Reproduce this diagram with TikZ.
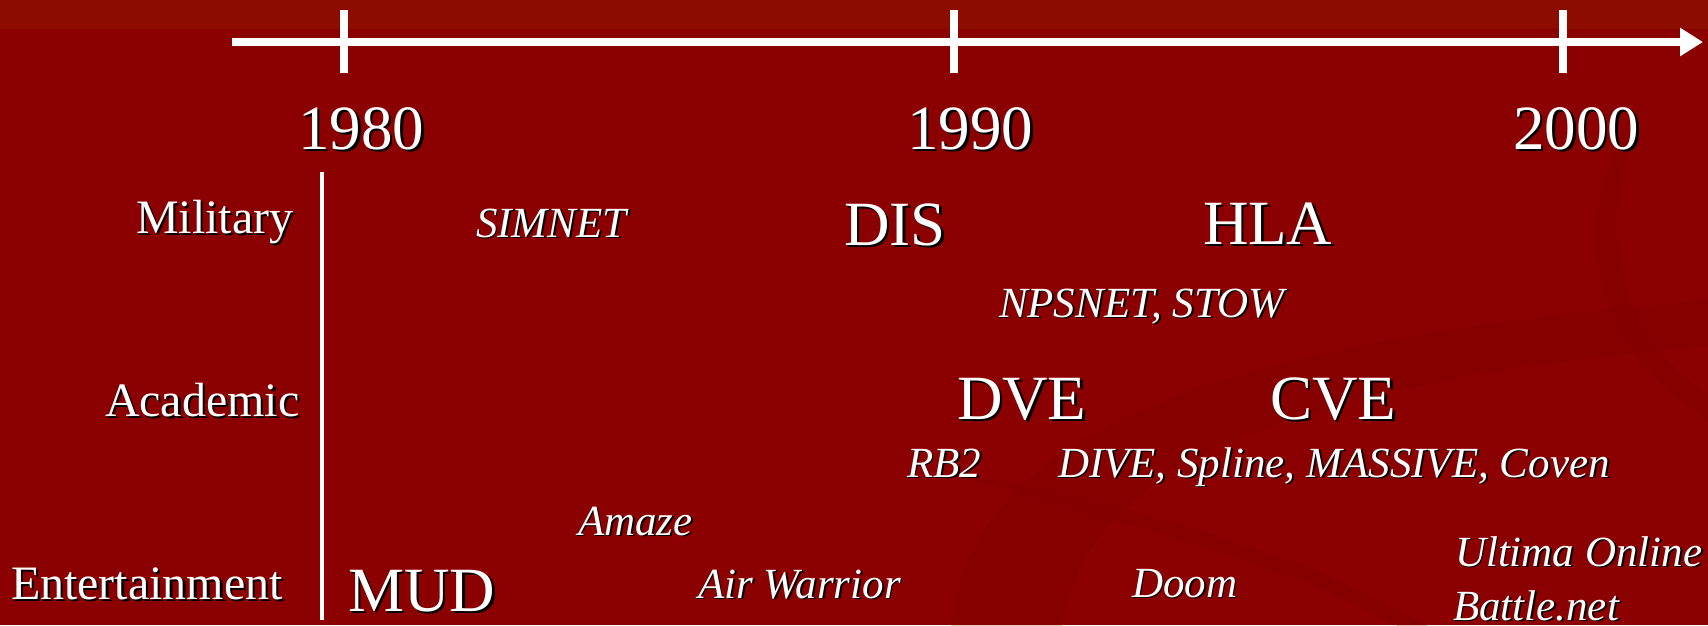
\documentclass[tikz,border=0pt]{standalone}
\usepackage{fontspec}
\setmainfont{Liberation Serif}
\usetikzlibrary{arrows.meta}
\definecolor{bg}{HTML}{8B0000}
\definecolor{bgtop}{HTML}{8C0C00}
\definecolor{swoosh}{HTML}{7A0000}
\newcommand\shtext[1]{\makebox[0pt][l]{\kern0.045em\raisebox{-0.045em}{\textcolor{black}{#1}}}#1}
\tikzset{
  lbl/.style={text=white, inner sep=0pt, outer sep=0pt, anchor=base west},
  big/.style={lbl, font=\fontsize{63}{63}\selectfont},
  cat/.style={lbl, font=\fontsize{48}{48}\selectfont},
  ital/.style={lbl, font=\fontsize{43}{43}\selectfont\itshape},
  axisline/.style={white, line width=8pt},
  band/.style={fill=swoosh, opacity=0.22},
}
\begin{document}
\begin{tikzpicture}[x=1pt, y=-1pt]
\useasboundingbox (0,0) rectangle (1708,625);
\fill[bg] (0,0) rectangle (1708,625);
\fill[bgtop] (0,0) rectangle (1708,29);
% faint background swooshes
\fill[band] (950,640) .. controls (960,420) and (1250,340) .. (1708,300)
  -- (1708,345) .. controls (1350,380) and (1080,440) .. (1060,640) -- cycle;
\fill[band] (940,470) .. controls (1100,520) and (1300,560) .. (1420,640)
  -- (1450,640) .. controls (1330,560) and (1120,500) .. (940,470) -- cycle;
\fill[band] (1650,90) .. controls (1570,200) and (1570,330) .. (1708,420)
  -- (1708,395) .. controls (1600,320) and (1600,200) .. (1650,90) -- cycle;
% time axis
\coordinate (axstart) at (232,42);
\coordinate (axend) at (1703,42);
\draw[axisline, -{Triangle[length=23pt,width=27pt]}] (axstart) -- (axend);
\coordinate (t80a) at (344,10); \coordinate (t80b) at (344,73);
\coordinate (t90a) at (954,10); \coordinate (t90b) at (954,73);
\coordinate (t00a) at (1563,10); \coordinate (t00b) at (1563,73);
\draw[axisline] (t80a) -- (t80b);
\draw[axisline] (t90a) -- (t90b);
\draw[axisline] (t00a) -- (t00b);
% separator
\coordinate (sepa) at (322,172);
\coordinate (sepb) at (322,620);
\draw[white, line width=4.5pt] (sepa) -- (sepb);
% years
\node[big] (y1980) at (298,149) {\shtext{1980}};
\node[big] (y1990) at (907,149) {\shtext{1990}};
\node[big] (y2000) at (1513,149) {\shtext{2000}};
% categories
\node[cat] (mil) at (136,233) {\shtext{Military}};
\node[cat] (aca) at (105,416) {\shtext{Academic}};
\node[cat] (ent) at (11,599) {\shtext{Entertainment}};
% big items
\node[big] (dis) at (844,245) {\shtext{DIS}};
\node[big] (hla) at (1203,244) {\shtext{HLA}};
\node[big] (dve) at (957,419) {\shtext{DVE}};
\node[big] (cve) at (1270,419) {\shtext{CVE}};
\node[big] (mud) at (348,611) {\shtext{MUD}};
% italic items
\node[ital] (simnet) at (476,237) {\shtext{SIMNET}};
\node[ital] (npsnet) at (999,317) {\shtext{NPSNET, STOW}};
\node[ital] (rb2) at (907,477) {\shtext{RB2}};
\node[ital] (dive) at (1058,477) {\shtext{DIVE, Spline, MASSIVE, Coven}};
\node[ital] (amaze) at (578,535) {\shtext{Amaze}};
\node[ital] (airw) at (698,598) {\shtext{Air Warrior}};
\node[ital] (doom) at (1132,597) {\shtext{Doom}};
\node[ital] (ultima) at (1455,566) {\shtext{Ultima Online}};
\node[ital] (battle) at (1453,620) {\shtext{Battle.net}};
\end{tikzpicture}
\end{document}
